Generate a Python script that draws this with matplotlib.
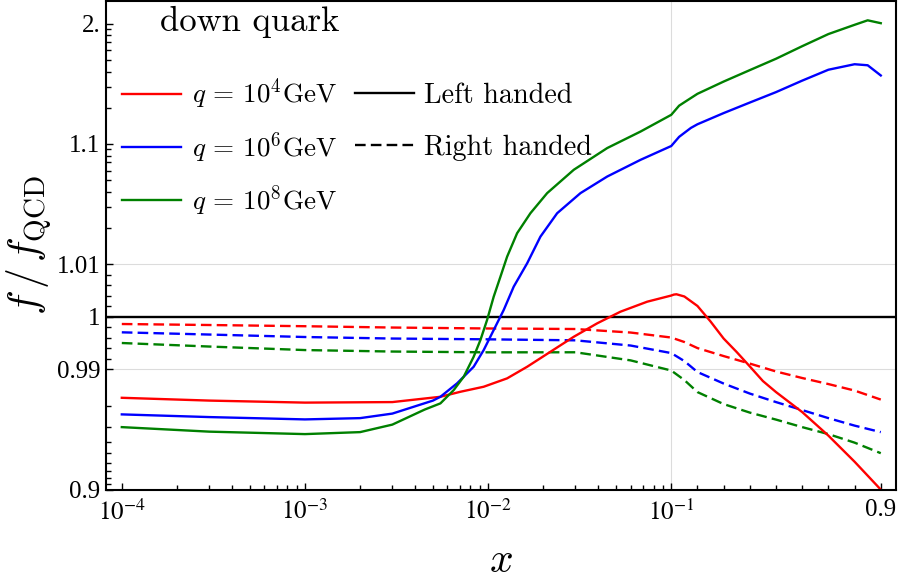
import numpy as np
import matplotlib
matplotlib.use('Agg')
import matplotlib.pyplot as plt
from matplotlib.lines import Line2D
from matplotlib.ticker import FixedLocator, FixedFormatter, NullFormatter

plt.rcParams['font.family'] = 'Liberation Serif'
plt.rcParams['mathtext.fontset'] = 'stix'

# ---- data (ratio f / f_QCD) ----
# left handed, q = 1e4 GeV
x_lh_r = [1e-4, 3e-4, 1e-3, 3e-3, 5.49e-3, 7.06e-3, 9.46e-3, 1.27e-2, 1.634e-2, 2.19e-2,
          2.937e-2, 3.941e-2, 5.28e-2, 7.39e-2, 0.1, 0.11, 0.12, 0.15, 0.2, 0.25, 0.3,
          0.35, 0.4, 0.45, 0.5, 0.6, 0.7, 0.8, 0.9]
lh_q4 = [0.98275, 0.98180, 0.98108, 0.98127, 0.98308, 0.98463, 0.98604, 0.98811, 0.99049,
         0.99334, 0.99619, 0.99874, 1.00095, 1.00285, 1.00402, 1.00420, 1.00426, 1.00384,
         1.00204, 0.99909, 0.99585, 0.99328, 0.99055, 0.98748, 0.98454, 0.97732, 0.96438,
         0.9413, 0.8998]

# left handed, q = 1e6 GeV
x_lh_b = [1e-4, 3e-4, 1e-3, 2e-3, 3e-3, 5e-3, 5.49e-3, 6.77e-3, 8.34e-3, 9.46e-3, 1.073e-2,
          1.217e-2, 1.38e-2, 1.634e-2, 1.931e-2, 2.382e-2, 3.194e-2, 4.47e-2, 6.8e-2, 0.1,
          0.13, 0.15, 0.175, 0.2, 0.3, 0.4, 0.5, 0.6, 0.7, 0.8, 0.85, 0.9]
lh_q6 = [0.97629, 0.97504, 0.97390, 0.97453, 0.97665, 0.98180, 0.98308, 0.98692, 0.99049,
         0.99366, 0.99747, 1.00128, 1.00571, 1.01015, 1.01692, 1.02648, 1.03893, 1.05349,
         1.0737, 1.0960, 1.1144, 1.1235, 1.1358, 1.1456, 1.1804, 1.2208, 1.2696, 1.336,
         1.414, 1.460, 1.451, 1.371]

# left handed, q = 1e8 GeV
x_lh_g = [1e-4, 3e-4, 1e-3, 2e-3, 3e-3, 4.5e-3, 5.49e-3, 6.49e-3, 7.36e-3, 8.34e-3, 9.08e-3,
          9.87e-3, 1.073e-2, 1.168e-2, 1.27e-2, 1.44e-2, 1.702e-2, 2.101e-2, 2.937e-2,
          4.47e-2, 6.8e-2, 0.1, 0.13, 0.15, 0.2, 0.3, 0.4, 0.5, 0.6, 0.7, 0.8, 0.85, 0.9]
lh_q8 = [0.96974, 0.96700, 0.96541, 0.96670, 0.97116, 0.97837, 0.98080, 0.98512, 0.98848,
         0.99239, 0.99557, 0.99937, 1.00381, 1.00761, 1.01152, 1.01806, 1.02648, 1.03893,
         1.0609, 1.0923, 1.1267, 1.1745, 1.2079, 1.222, 1.261, 1.330, 1.411, 1.511, 1.650,
         1.820, 1.979, 2.067, 2.010]

# right handed
x_rh = [1e-4, 3e-4, 1e-3, 3e-3, 1e-2, 3e-2, 6e-2, 0.1, 0.15, 0.2, 0.3, 0.4, 0.5, 0.6, 0.7, 0.8, 0.9]
rh_q4 = [0.99861, 0.99842, 0.99819, 0.99794, 0.99776, 0.99766, 0.99699, 0.99604, 0.99519,
         0.99404, 0.99252, 0.99109, 0.98958, 0.98819, 0.98674, 0.98498, 0.98215]
rh_q6 = [0.99703, 0.99661, 0.99614, 0.99585, 0.99570, 0.99551, 0.99452, 0.99309, 0.99157,
         0.98947, 0.98687, 0.98409, 0.98127, 0.97817, 0.97453, 0.97060, 0.96670]
rh_q8 = [0.99500, 0.99433, 0.99366, 0.99338, 0.99323, 0.99324, 0.99170, 0.98977, 0.98772,
         0.98454, 0.98054, 0.97709, 0.97380, 0.96974, 0.96541, 0.95926, 0.95013]

labels_q = [r'$q\,=\,10^{4}\mathrm{GeV}$', r'$q\,=\,10^{6}\mathrm{GeV}$', r'$q\,=\,10^{8}\mathrm{GeV}$']
labels_h = ['Left handed', 'Right handed']
colors = ['#ff0000', '#0000ff', '#008000']

xticks = [1e-4, 1e-3, 1e-2, 1e-1, 0.9]
xticklabels = [r'$10^{-4}$', r'$10^{-3}$', r'$10^{-2}$', r'$10^{-1}$', '0.9']
yticks = [0.9, 0.99, 1.0, 1.01, 1.1, 2.0]
yticklabels = ['0.9', '0.99', '1', '1.01', '1.1', '2.']
grid_x = [0.1]
grid_y = [0.99, 1.01]

# ---- custom scales ----
XK = 1.43  # decades per unit of x above 0.1 (linear part)


def fx(x):
    x = np.asarray(x, float)
    lo = np.log10(np.clip(x, 1e-12, None))
    return np.where(x <= 0.1, lo, -1 + (x - 0.1) * XK)


def fx_inv(u):
    u = np.asarray(u, float)
    return np.where(u <= -1, 10.0 ** np.minimum(u, -1), 0.1 + (u + 1) / XK)


LIN = 0.01
LS = 0.438


def fy(y):
    d = np.asarray(y, float) - 1
    a = np.abs(d)
    return np.where(a <= LIN, d / LIN * LS,
                    np.sign(d) * (LS + np.log10(np.maximum(a, LIN) / LIN)))


def fy_inv(t):
    t = np.asarray(t, float)
    a = np.abs(t)
    return 1 + np.where(a <= LS, t / LS * LIN,
                        np.sign(t) * LIN * 10 ** (np.minimum(np.maximum(a, LS), 10) - LS))


fig = plt.figure(figsize=(9, 5.88), dpi=100)
ax = fig.add_axes([0.1178, 0.1675, 0.8783, 0.8308])
ax.set_xscale('function', functions=(fx, fx_inv))
ax.set_yscale('function', functions=(fy, fy_inv))

for gx in grid_x:
    ax.axvline(gx, color='#dcdcdc', lw=0.8, zorder=0)
for gy in grid_y:
    ax.axhline(gy, color='#dcdcdc', lw=0.8, zorder=0)

LW = 1.7
ax.axhline(1.0, color='black', lw=LW, zorder=2)

dash = (4.5, 2.2)
ax.plot(x_rh, rh_q4, color=colors[0], lw=LW, dashes=dash)
ax.plot(x_rh, rh_q6, color=colors[1], lw=LW, dashes=dash)
ax.plot(x_rh, rh_q8, color=colors[2], lw=LW, dashes=dash)

h1, = ax.plot(x_lh_r, lh_q4, color=colors[0], lw=LW)
h2, = ax.plot(x_lh_b, lh_q6, color=colors[1], lw=LW)
h3, = ax.plot(x_lh_g, lh_q8, color=colors[2], lw=LW)

ax.set_xlim(8.2e-5, 0.96)
ax.set_ylim(0.9, 2.545)

# ticks
ax.xaxis.set_major_locator(FixedLocator(xticks))
ax.xaxis.set_major_formatter(FixedFormatter(xticklabels))
xminor = [k * 10.0 ** e for e in (-4, -3, -2) for k in range(2, 10)] + [0.2, 0.3, 0.4, 0.5, 0.6, 0.7, 0.8]
ax.xaxis.set_minor_locator(FixedLocator(xminor))
ax.xaxis.set_minor_formatter(NullFormatter())

ax.yaxis.set_major_locator(FixedLocator(yticks))
ax.yaxis.set_major_formatter(FixedFormatter(yticklabels))
yminor = ([1 + s * 0.002 * k for s in (-1, 1) for k in range(1, 5)]
          + [1 + s * 0.01 * k for s in (-1, 1) for k in range(2, 10)]
          + [1 + 0.1 * k for k in range(2, 10)])
ax.yaxis.set_minor_locator(FixedLocator(yminor))
ax.yaxis.set_minor_formatter(NullFormatter())

ax.tick_params(which='both', direction='in', top=False, right=False, width=1.0, labelsize=18)
ax.tick_params(axis='x', which='both', pad=7)
ax.tick_params(axis='y', which='both', pad=4)
ax.tick_params(which='major', length=5)
ax.tick_params(which='minor', length=3.5)
for sp in ax.spines.values():
    sp.set_linewidth(1.5)

ax.set_xlabel(r'$x$', fontsize=30, math_fontfamily='cm', labelpad=13)
ax.set_ylabel(r'$f\,/\,f_{\mathrm{QCD}}$', fontsize=30, math_fontfamily='cm', labelpad=2)

ax.text(0.0683, 0.939, 'down quark', transform=ax.transAxes, fontsize=25,
        family='cmr10', va='baseline', ha='left')

leg1 = ax.legend([h1, h2, h3], labels_q, loc='upper left', bbox_to_anchor=(0.02, 0.845),
                 frameon=False, fontsize=19.5, borderpad=0, handlelength=2.2,
                 handletextpad=0.38, labelspacing=0.68, borderaxespad=0)
for t in leg1.get_texts():
    t.set_math_fontfamily('cm')
ax.add_artist(leg1)

lh = Line2D([], [], color='black', lw=LW)
rh = Line2D([], [], color='black', lw=LW, dashes=dash)
leg2 = ax.legend([lh, rh], labels_h, loc='upper left', bbox_to_anchor=(0.315, 0.8336),
                 frameon=False, prop={'family': 'cmr10', 'size': 20.3}, borderpad=0,
                 handlelength=2.1, handletextpad=0.35, labelspacing=0.93, borderaxespad=0)

fig.savefig('out.png', dpi=100)
